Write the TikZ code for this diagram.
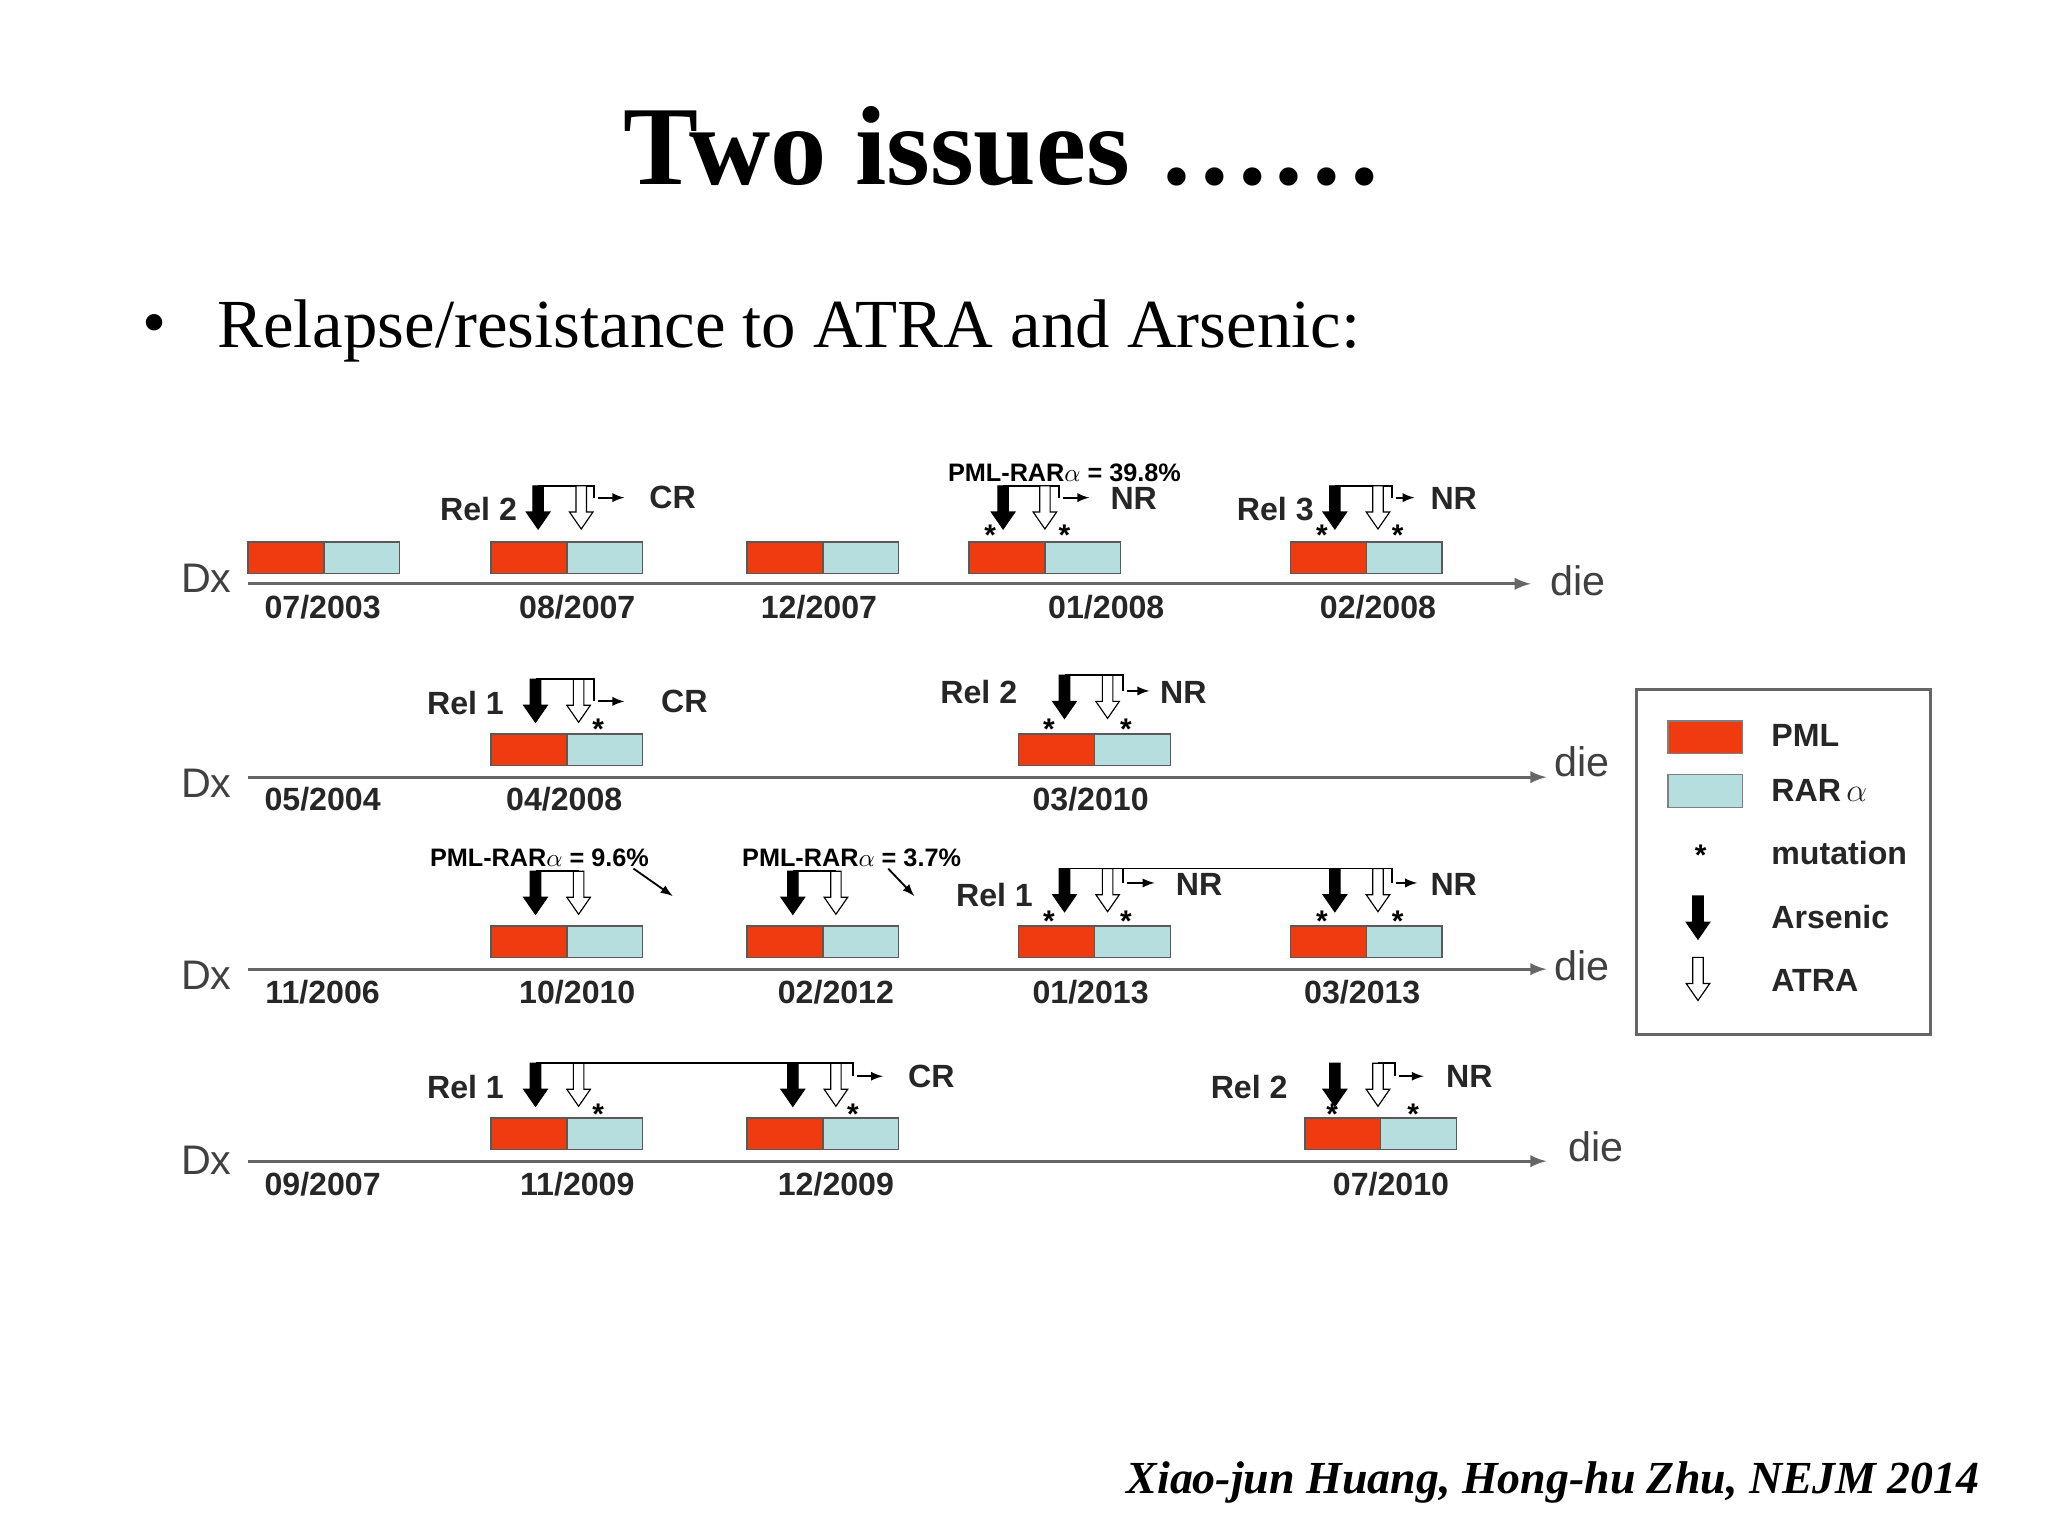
\documentclass[tikz,border=0pt]{standalone}
\usepackage{fontspec}
\setmainfont{Liberation Serif}
\setsansfont{Liberation Sans}
\definecolor{pmlred}{HTML}{F03A10}
\definecolor{rarblue}{HTML}{B6DEDF}
\newcommand\arrB[3]{\filldraw[draw=black,fill=#3,line width=0.5pt] ({#1-4},#2) -- ({#1+4},#2) -- ({#1+4},{#2+20}) -- ({#1+9},{#2+20}) -- (#1,{#2+33}) -- ({#1-9},{#2+20}) -- ({#1-4},{#2+20}) -- cycle;}
\newcommand\prbox[2]{\fill[pmlred] (#1,#2) rectangle ({#1+58},{#2+24}); \fill[rarblue] ({#1+58},#2) rectangle ({#1+116},{#2+24}); \draw[gray!70!black,line width=0.6pt] (#1,#2) rectangle ({#1+116},{#2+24}) ({#1+58},#2) -- ({#1+58},{#2+24});}
\newcommand\str[2]{\node[font=\sffamily\bfseries\fontsize{13}{13}\selectfont] at (#1,#2) {*};}
\begin{document}
\begin{tikzpicture}[x=0.02cm,y=-0.02cm,
 lab/.style={font=\sffamily\bfseries\fontsize{14}{14}\selectfont,text=black!85},
 big/.style={font=\sffamily\fontsize{18}{18}\selectfont,text=black!75},
 tl/.style={line width=1.4pt,gray!80!black},
 ln/.style={line width=0.8pt}]
\useasboundingbox (0,0) rectangle (1568,1176);
\node[font=\rmfamily\bfseries\fontsize{49}{49}\selectfont] (title) at (768,112) {Two issues ……};
\node[font=\rmfamily\fontsize{30}{30}\selectfont] (bul) at (118,253) {•};
\node[font=\rmfamily\fontsize{30}{30}\selectfont,anchor=west] (sub) at (160,253) {Relapse/resistance to ATRA and Arsenic:};
\node[font=\rmfamily\bfseries\itshape\fontsize{20}{20}\selectfont,anchor=east] (cite) at (1522,1135) {Xiao-jun Huang, Hong-hu Zhu, NEJM 2014};
% ---------- Row 1
\coordinate (r1a) at (190,447); \coordinate (r1b) at (1172,447);
\draw[tl,-latex] (r1a) -- (r1b);
\node[big] at (158,443) {Dx}; \node[big] at (1208,445) {die};
\prbox{190}{415}\prbox{376}{415}\prbox{572}{415}\prbox{742}{415}\prbox{988}{415}
\foreach \x/\d in {247/07\slash 2003,442/08\slash 2007,627/12\slash 2007,847/01\slash 2008,1055/02\slash 2008}{\node[lab] at (\x,465) {\d};}
\draw[ln] (412,372) -- (455,372) -- (455,381); \draw[ln,-latex] (458,381) -- (478,381);
\arrB{412}{372}{black}\arrB{445}{372}{white}
\node[lab,anchor=east] at (402,390) {Rel 2}; \node[lab] at (515,381) {CR};
\node[font=\sffamily\bfseries\fontsize{11}{11}\selectfont] at (815,362) {PML-RAR$\alpha$ = 39.8\%};
\draw[ln] (768,372) -- (811,372) -- (811,381); \draw[ln,-latex] (814,381) -- (834,381);
\arrB{768}{372}{black}\arrB{800}{372}{white}
\node[lab] at (868,382) {NR}; \str{758}{410}\str{815}{410}
\node[lab,anchor=east] at (1012,390) {Rel 3};
\draw[ln] (1022,372) -- (1066,372) -- (1066,381); \draw[ln,-latex] (1069,381) -- (1083,381);
\arrB{1022}{372}{black}\arrB{1055}{372}{white}
\node[lab] at (1113,382) {NR}; \str{1012}{410}\str{1070}{410}
% ---------- Row 2
\draw[tl,-latex] (190,595) -- (1184,595);
\node[big] at (158,600) {Dx}; \node[big] at (1211,583) {die};
\prbox{376}{562}\prbox{780}{562}
\foreach \x/\d in {247/05\slash 2004,432/04\slash 2008,835/03\slash 2010}{\node[lab] at (\x,612) {\d};}
\draw[ln] (410,520) -- (455,520) -- (455,537); \draw[ln,-latex] (458,537) -- (478,537);
\arrB{410}{520}{black}\arrB{443}{520}{white}
\node[lab,anchor=east] at (392,538) {Rel 1}; \node[lab] at (524,537) {CR}; \str{458}{558}
\draw[ln] (815,517) -- (860,517) -- (860,529); \draw[ln,-latex] (863,529) -- (880,529);
\arrB{815}{517}{black}\arrB{848}{517}{white}
\node[lab,anchor=east] at (785,530) {Rel 2}; \node[lab] at (906,530) {NR}; \str{803}{558}\str{862}{558}
% ---------- Row 3
\draw[tl,-latex] (190,742) -- (1184,742);
\node[big] at (158,747) {Dx}; \node[big] at (1211,739) {die};
\prbox{376}{709}\prbox{572}{709}\prbox{780}{709}\prbox{988}{709}
\foreach \x/\d in {247/11\slash 2006,442/10\slash 2010,640/02\slash 2012,835/01\slash 2013,1043/03\slash 2013}{\node[lab] at (\x,760) {\d};}
\node[font=\sffamily\bfseries\fontsize{11}{11}\selectfont] at (413,657) {PML-RAR$\alpha$ = 9.6\%};
\node[font=\sffamily\bfseries\fontsize{11}{11}\selectfont] at (652,657) {PML-RAR$\alpha$ = 3.7\%};
\draw[ln,-latex] (485,665) -- (515,686); \draw[ln,-latex] (680,665) -- (700,686);
\draw[ln] (410,667) -- (443,667); \arrB{410}{667}{black}\arrB{443}{667}{white}
\draw[ln] (607,667) -- (640,667); \arrB{607}{667}{black}\arrB{640}{667}{white}
\draw[ln] (815,665) -- (1055,665);
\draw[ln] (848,665) -- (860,665) -- (860,676); \draw[ln,-latex] (863,676) -- (884,676);
\arrB{815}{665}{black}\arrB{848}{665}{white}
\node[lab,anchor=east] at (797,685) {Rel 1}; \node[lab] at (918,677) {NR}; \str{803}{705}\str{862}{705}
\draw[ln] (1055,665) -- (1066,665) -- (1066,676); \draw[ln,-latex] (1069,676) -- (1085,676);
\arrB{1022}{665}{black}\arrB{1055}{665}{white}
\node[lab] at (1113,677) {NR}; \str{1012}{705}\str{1070}{705}
% ---------- Row 4
\draw[tl,-latex] (190,889) -- (1184,889);
\node[big] at (158,888) {Dx}; \node[big] at (1222,878) {die};
\prbox{376}{856}\prbox{572}{856}\prbox{999}{856}
\foreach \x/\d in {247/09\slash 2007,442/11\slash 2009,640/12\slash 2009,1065/07\slash 2010}{\node[lab] at (\x,907) {\d};}
\draw[ln] (410,814) -- (640,814);
\arrB{410}{814}{black}\arrB{443}{814}{white}
\node[lab,anchor=east] at (392,832) {Rel 1}; \str{458}{853}
\draw[ln] (640,814) -- (653,814) -- (653,824); \draw[ln,-latex] (656,824) -- (676,824);
\arrB{607}{814}{black}\arrB{640}{814}{white}
\node[lab] at (713,824) {CR}; \str{653}{853}
\draw[ln] (1055,814) -- (1068,814) -- (1068,824); \draw[ln,-latex] (1071,824) -- (1090,824);
\arrB{1022}{814}{black}\arrB{1055}{814}{white}
\node[lab,anchor=east] at (992,832) {Rel 2}; \node[lab] at (1125,824) {NR}; \str{1020}{853}\str{1082}{853}
% ---------- Legend
\draw[gray!80!black,line width=1pt] (1253,528) rectangle (1478,792);
\fill[pmlred] (1277,552) rectangle (1334,577); \draw[gray,line width=0.6pt] (1277,552) rectangle (1334,577);
\fill[rarblue] (1277,593) rectangle (1334,618); \draw[gray,line width=0.6pt] (1277,593) rectangle (1334,618);
\str{1302}{655}
\arrB{1300}{686}{black}\arrB{1300}{733}{white}
\node[lab,anchor=west] at (1350,563) {PML};
\node[lab,anchor=west] at (1350,605) {RAR\,$\alpha$};
\node[lab,anchor=west] at (1350,653) {mutation};
\node[lab,anchor=west] at (1350,702) {Arsenic};
\node[lab,anchor=west] at (1350,751) {ATRA};
\end{tikzpicture}
\end{document}
